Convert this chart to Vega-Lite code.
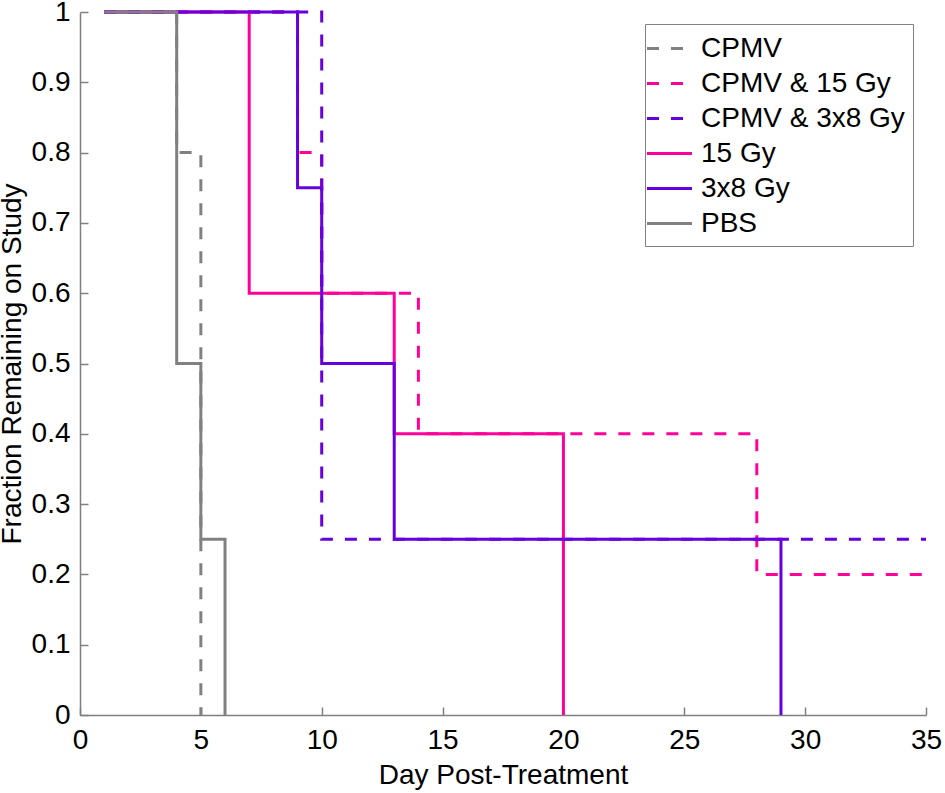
{
  "$schema": "https://vega.github.io/schema/vega-lite/v6.json",
  "autosize": {"type": "none"},
  "padding": {"left": 80, "top": 12, "right": 19, "bottom": 78},
  "width": 846,
  "height": 703,
  "background": "white",
  "data": {
    "values": [
      {"Group": "CPMV", "Day": 1, "Fraction": 1, "Step": 0},
      {"Group": "CPMV", "Day": 4, "Fraction": 0.8, "Step": 1},
      {"Group": "CPMV", "Day": 5, "Fraction": 0, "Step": 2},
      {"Group": "CPMV & 15 Gy", "Day": 1, "Fraction": 1, "Step": 0},
      {"Group": "CPMV & 15 Gy", "Day": 9, "Fraction": 0.8, "Step": 1},
      {"Group": "CPMV & 15 Gy", "Day": 10, "Fraction": 0.6, "Step": 2},
      {"Group": "CPMV & 15 Gy", "Day": 14, "Fraction": 0.4, "Step": 3},
      {"Group": "CPMV & 15 Gy", "Day": 28, "Fraction": 0.2, "Step": 4},
      {"Group": "CPMV & 15 Gy", "Day": 35, "Fraction": 0.2, "Step": 5},
      {"Group": "CPMV & 3x8 Gy", "Day": 1, "Fraction": 1, "Step": 0},
      {"Group": "CPMV & 3x8 Gy", "Day": 10, "Fraction": 0.25, "Step": 1},
      {"Group": "CPMV & 3x8 Gy", "Day": 35, "Fraction": 0.25, "Step": 2},
      {"Group": "15 Gy", "Day": 1, "Fraction": 1, "Step": 0},
      {"Group": "15 Gy", "Day": 7, "Fraction": 0.6, "Step": 1},
      {"Group": "15 Gy", "Day": 13, "Fraction": 0.4, "Step": 2},
      {"Group": "15 Gy", "Day": 20, "Fraction": 0, "Step": 3},
      {"Group": "3x8 Gy", "Day": 1, "Fraction": 1, "Step": 0},
      {"Group": "3x8 Gy", "Day": 9, "Fraction": 0.75, "Step": 1},
      {"Group": "3x8 Gy", "Day": 10, "Fraction": 0.5, "Step": 2},
      {"Group": "3x8 Gy", "Day": 13, "Fraction": 0.25, "Step": 3},
      {"Group": "3x8 Gy", "Day": 29, "Fraction": 0, "Step": 4},
      {"Group": "PBS", "Day": 1, "Fraction": 1, "Step": 0},
      {"Group": "PBS", "Day": 4, "Fraction": 0.5, "Step": 1},
      {"Group": "PBS", "Day": 5, "Fraction": 0.25, "Step": 2},
      {"Group": "PBS", "Day": 6, "Fraction": 0, "Step": 3}
    ]
  },
  "mark": {"type": "line", "interpolate": "step-after", "strokeWidth": 3, "strokeCap": "butt", "clip": false},
  "encoding": {
    "x": {
      "field": "Day",
      "type": "quantitative",
      "scale": {"domain": [0, 35], "nice": false, "zero": false},
      "axis": {"title": "Day Post-Treatment", "values": [0, 5, 10, 15, 20, 25, 30, 35], "labelFlush": false, "labelPadding": 19, "titlePadding": 7}
    },
    "y": {
      "field": "Fraction",
      "type": "quantitative",
      "scale": {"domain": [0, 1], "nice": false},
      "axis": {
        "title": "Fraction Remaining on Study",
        "values": [0, 0.1, 0.2, 0.3, 0.4, 0.5, 0.6, 0.7, 0.8, 0.9, 1],
        "format": "~g",
        "labelFlush": false,
        "labelPadding": 18,
        "titlePadding": 5
      }
    },
    "order": {"field": "Step"},
    "color": {
      "field": "Group",
      "type": "nominal",
      "scale": {
        "domain": ["CPMV", "CPMV & 15 Gy", "CPMV & 3x8 Gy", "15 Gy", "3x8 Gy", "PBS"],
        "range": ["#808080", "#ff0099", "#6600dd", "#ff0099", "#6600dd", "#808080"]
      },
      "legend": {"title": null}
    },
    "strokeDash": {
      "field": "Group",
      "type": "nominal",
      "scale": {
        "domain": ["CPMV", "CPMV & 15 Gy", "CPMV & 3x8 Gy", "15 Gy", "3x8 Gy", "PBS"],
        "range": [[12, 12], [12, 12], [12, 12], [1, 0], [1, 0], [1, 0]]
      },
      "legend": {"title": null}
    }
  },
  "config": {
    "view": {"stroke": null},
    "font": "Liberation Sans",
    "axis": {
      "grid": false,
      "domainColor": "#808080",
      "domainWidth": 1.5,
      "tickColor": "#808080",
      "tickWidth": 1.5,
      "tickSize": -8,
      "labelFont": "Liberation Sans",
      "labelFontSize": 28,
      "labelColor": "#000000",
      "titleFont": "Liberation Sans",
      "titleFontSize": 28,
      "titleFontWeight": "normal",
      "titleColor": "#000000"
    },
    "legend": {
      "orient": "none",
      "legendX": 565,
      "legendY": 12,
      "padding": 8,
      "strokeColor": "#808080",
      "fillColor": "white",
      "symbolType": "M-1.5,0H1.5",
      "symbolSize": 900,
      "symbolStrokeWidth": 3,
      "symbolFillColor": "transparent",
      "labelFont": "Liberation Sans",
      "labelFontSize": 28,
      "labelColor": "#000000",
      "labelOffset": 15,
      "labelLimit": 400,
      "rowPadding": 4
    }
  }
}
